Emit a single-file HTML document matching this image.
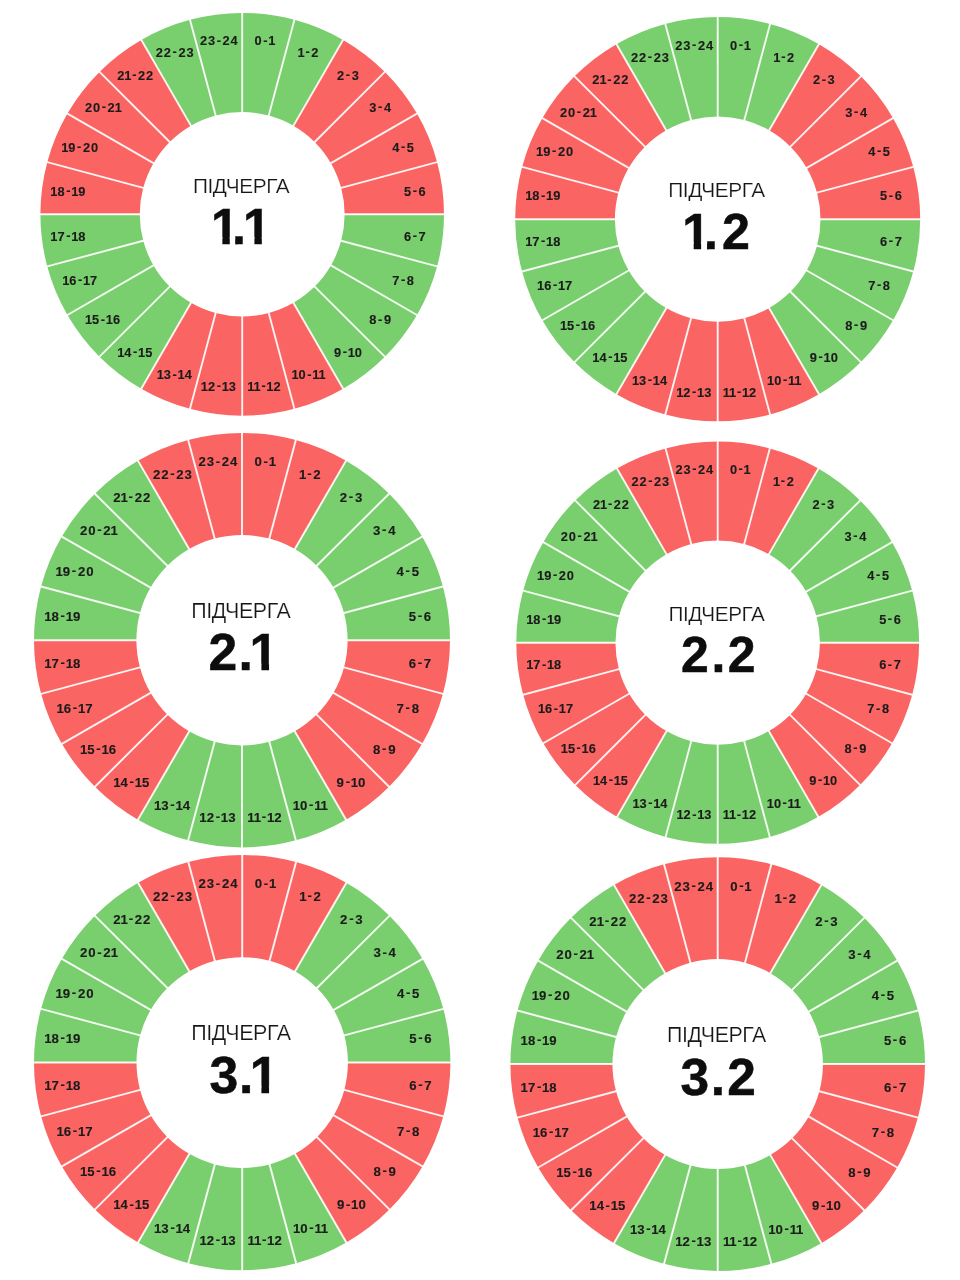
<!DOCTYPE html>
<html lang="uk">
<head>
<meta charset="utf-8">
<title>Підчерги</title>
<style>
html,body{margin:0;padding:0;background:#fff;}
body{width:960px;height:1280px;overflow:hidden;font-family:"Liberation Sans",sans-serif;}
svg{display:block;}
.dv{stroke:#fff;stroke-width:1.9;stroke-opacity:.9;}
.lb{font-family:"Liberation Sans",sans-serif;font-size:12.8px;font-weight:bold;text-anchor:middle;fill:#1b1b1b;stroke:#1b1b1b;stroke-width:.12px;}
.tt{font-family:"Liberation Sans",sans-serif;font-size:20.8px;letter-spacing:-.42px;text-anchor:middle;fill:#161616;stroke:#fff;stroke-width:.22px;paint-order:fill stroke;}
.nm{font-family:"Liberation Sans",sans-serif;font-size:50px;font-weight:bold;fill:#0d0d0d;stroke:#0d0d0d;stroke-width:.5px;}
</style>
</head>
<body>
<svg width="960" height="1280" viewBox="0 0 960 1280">
<rect width="960" height="1280" fill="#fff"/>
<g transform="translate(242.2 214.3) scale(1.0015 0.9995)">
<path d="M0 -201.5A201.5 201.5 0 0 1 52.15 -194.63L26.48 -98.81A102.3 102.3 0 0 0 0 -102.3Z" fill="#79CE6D"/>
<path d="M52.15 -194.63A201.5 201.5 0 0 1 100.75 -174.5L51.15 -88.59A102.3 102.3 0 0 0 26.48 -98.81Z" fill="#79CE6D"/>
<path d="M100.75 -174.5A201.5 201.5 0 0 1 142.48 -142.48L72.34 -72.34A102.3 102.3 0 0 0 51.15 -88.59Z" fill="#FA6463"/>
<path d="M142.48 -142.48A201.5 201.5 0 0 1 174.5 -100.75L88.59 -51.15A102.3 102.3 0 0 0 72.34 -72.34Z" fill="#FA6463"/>
<path d="M174.5 -100.75A201.5 201.5 0 0 1 194.63 -52.15L98.81 -26.48A102.3 102.3 0 0 0 88.59 -51.15Z" fill="#FA6463"/>
<path d="M194.63 -52.15A201.5 201.5 0 0 1 201.5 -0L102.3 -0A102.3 102.3 0 0 0 98.81 -26.48Z" fill="#FA6463"/>
<path d="M201.5 -0A201.5 201.5 0 0 1 194.63 52.15L98.81 26.48A102.3 102.3 0 0 0 102.3 -0Z" fill="#79CE6D"/>
<path d="M194.63 52.15A201.5 201.5 0 0 1 174.5 100.75L88.59 51.15A102.3 102.3 0 0 0 98.81 26.48Z" fill="#79CE6D"/>
<path d="M174.5 100.75A201.5 201.5 0 0 1 142.48 142.48L72.34 72.34A102.3 102.3 0 0 0 88.59 51.15Z" fill="#79CE6D"/>
<path d="M142.48 142.48A201.5 201.5 0 0 1 100.75 174.5L51.15 88.59A102.3 102.3 0 0 0 72.34 72.34Z" fill="#79CE6D"/>
<path d="M100.75 174.5A201.5 201.5 0 0 1 52.15 194.63L26.48 98.81A102.3 102.3 0 0 0 51.15 88.59Z" fill="#FA6463"/>
<path d="M52.15 194.63A201.5 201.5 0 0 1 0 201.5L0 102.3A102.3 102.3 0 0 0 26.48 98.81Z" fill="#FA6463"/>
<path d="M0 201.5A201.5 201.5 0 0 1 -52.15 194.63L-26.48 98.81A102.3 102.3 0 0 0 0 102.3Z" fill="#FA6463"/>
<path d="M-52.15 194.63A201.5 201.5 0 0 1 -100.75 174.5L-51.15 88.59A102.3 102.3 0 0 0 -26.48 98.81Z" fill="#FA6463"/>
<path d="M-100.75 174.5A201.5 201.5 0 0 1 -142.48 142.48L-72.34 72.34A102.3 102.3 0 0 0 -51.15 88.59Z" fill="#79CE6D"/>
<path d="M-142.48 142.48A201.5 201.5 0 0 1 -174.5 100.75L-88.59 51.15A102.3 102.3 0 0 0 -72.34 72.34Z" fill="#79CE6D"/>
<path d="M-174.5 100.75A201.5 201.5 0 0 1 -194.63 52.15L-98.81 26.48A102.3 102.3 0 0 0 -88.59 51.15Z" fill="#79CE6D"/>
<path d="M-194.63 52.15A201.5 201.5 0 0 1 -201.5 0L-102.3 0A102.3 102.3 0 0 0 -98.81 26.48Z" fill="#79CE6D"/>
<path d="M-201.5 0A201.5 201.5 0 0 1 -194.63 -52.15L-98.81 -26.48A102.3 102.3 0 0 0 -102.3 0Z" fill="#FA6463"/>
<path d="M-194.63 -52.15A201.5 201.5 0 0 1 -174.5 -100.75L-88.59 -51.15A102.3 102.3 0 0 0 -98.81 -26.48Z" fill="#FA6463"/>
<path d="M-174.5 -100.75A201.5 201.5 0 0 1 -142.48 -142.48L-72.34 -72.34A102.3 102.3 0 0 0 -88.59 -51.15Z" fill="#FA6463"/>
<path d="M-142.48 -142.48A201.5 201.5 0 0 1 -100.75 -174.5L-51.15 -88.59A102.3 102.3 0 0 0 -72.34 -72.34Z" fill="#FA6463"/>
<path d="M-100.75 -174.5A201.5 201.5 0 0 1 -52.15 -194.63L-26.48 -98.81A102.3 102.3 0 0 0 -51.15 -88.59Z" fill="#79CE6D"/>
<path d="M-52.15 -194.63A201.5 201.5 0 0 1 -0 -201.5L-0 -102.3A102.3 102.3 0 0 0 -26.48 -98.81Z" fill="#79CE6D"/>
<line x1="0" y1="-101.3" x2="0" y2="-202.5" class="dv"/>
<line x1="26.22" y1="-97.85" x2="52.41" y2="-195.6" class="dv"/>
<line x1="50.65" y1="-87.73" x2="101.25" y2="-175.37" class="dv"/>
<line x1="71.63" y1="-71.63" x2="143.19" y2="-143.19" class="dv"/>
<line x1="87.73" y1="-50.65" x2="175.37" y2="-101.25" class="dv"/>
<line x1="97.85" y1="-26.22" x2="195.6" y2="-52.41" class="dv"/>
<line x1="101.3" y1="-0" x2="202.5" y2="-0" class="dv"/>
<line x1="97.85" y1="26.22" x2="195.6" y2="52.41" class="dv"/>
<line x1="87.73" y1="50.65" x2="175.37" y2="101.25" class="dv"/>
<line x1="71.63" y1="71.63" x2="143.19" y2="143.19" class="dv"/>
<line x1="50.65" y1="87.73" x2="101.25" y2="175.37" class="dv"/>
<line x1="26.22" y1="97.85" x2="52.41" y2="195.6" class="dv"/>
<line x1="0" y1="101.3" x2="0" y2="202.5" class="dv"/>
<line x1="-26.22" y1="97.85" x2="-52.41" y2="195.6" class="dv"/>
<line x1="-50.65" y1="87.73" x2="-101.25" y2="175.37" class="dv"/>
<line x1="-71.63" y1="71.63" x2="-143.19" y2="143.19" class="dv"/>
<line x1="-87.73" y1="50.65" x2="-175.37" y2="101.25" class="dv"/>
<line x1="-97.85" y1="26.22" x2="-195.6" y2="52.41" class="dv"/>
<line x1="-101.3" y1="0" x2="-202.5" y2="0" class="dv"/>
<line x1="-97.85" y1="-26.22" x2="-195.6" y2="-52.41" class="dv"/>
<line x1="-87.73" y1="-50.65" x2="-175.37" y2="-101.25" class="dv"/>
<line x1="-71.63" y1="-71.63" x2="-143.19" y2="-143.19" class="dv"/>
<line x1="-50.65" y1="-87.73" x2="-101.25" y2="-175.37" class="dv"/>
<line x1="-26.22" y1="-97.85" x2="-52.41" y2="-195.6" class="dv"/>
<text class="lb" x="15.78 23.08 29.48" y="-169.01 -169.76 -169.01">0-1</text>
<text class="lb" x="58.88 65.28 72.58" y="-157.22 -157.97 -157.22">1-2</text>
<text class="lb" x="98.33 105.63 112.93" y="-134.44 -135.19 -134.44">2-3</text>
<text class="lb" x="130.54 137.84 145.14" y="-102.23 -102.98 -102.23">3-4</text>
<text class="lb" x="153.32 160.62 167.92" y="-62.78 -63.53 -62.78">4-5</text>
<text class="lb" x="165.11 172.41 179.71" y="-18.78 -19.53 -18.78">5-6</text>
<text class="lb" x="165.11 172.41 179.71" y="26.78 26.03 26.78">6-7</text>
<text class="lb" x="153.32 160.62 167.92" y="70.78 70.03 70.78">7-8</text>
<text class="lb" x="130.54 137.84 145.14" y="110.23 109.48 110.23">8-9</text>
<text class="lb" x="95.23 102.53 108.93 116.03" y="142.44 141.69 142.44 142.44">9-10</text>
<text class="lb" x="52.68 59.78 67.08 73.48 79.68" y="165.22 165.22 164.47 165.22 165.22">10-11</text>
<text class="lb" x="8.68 14.88 21.28 27.68 34.78" y="177.01 177.01 176.26 177.01 177.01">11-12</text>
<text class="lb" x="-37.78 -30.68 -23.38 -16.98 -9.88" y="177.01 177.01 176.26 177.01 177.01">12-13</text>
<text class="lb" x="-81.78 -74.68 -67.38 -60.98 -53.88" y="165.22 165.22 164.47 165.22 165.22">13-14</text>
<text class="lb" x="-121.23 -114.13 -106.83 -100.43 -93.33" y="142.44 142.44 141.69 142.44 142.44">14-15</text>
<text class="lb" x="-153.44 -146.34 -139.04 -132.64 -125.54" y="110.23 110.23 109.48 110.23 110.23">15-16</text>
<text class="lb" x="-176.22 -169.12 -161.82 -155.42 -148.32" y="70.78 70.78 70.03 70.78 70.78">16-17</text>
<text class="lb" x="-188.01 -180.91 -173.61 -167.21 -160.11" y="26.78 26.78 26.03 26.78 26.78">17-18</text>
<text class="lb" x="-188.01 -180.91 -173.61 -167.21 -160.11" y="-18.78 -18.78 -19.53 -18.78 -18.78">18-19</text>
<text class="lb" x="-177.12 -170.02 -162.72 -155.42 -147.42" y="-62.78 -62.78 -63.53 -62.78 -62.78">19-20</text>
<text class="lb" x="-153.44 -145.44 -138.14 -130.84 -123.74" y="-102.23 -102.23 -102.98 -102.23 -102.23">20-21</text>
<text class="lb" x="-121.23 -114.13 -107.73 -100.43 -92.43" y="-134.44 -134.44 -135.19 -134.44 -134.44">21-22</text>
<text class="lb" x="-82.68 -74.68 -67.38 -60.08 -52.08" y="-157.22 -157.22 -157.97 -157.22 -157.22">22-23</text>
<text class="lb" x="-38.68 -30.68 -23.38 -16.08 -8.08" y="-169.01 -169.01 -169.76 -169.01 -169.01">23-24</text>
<text class="tt" x="-1.2" y="-21.7">ПІДЧЕРГА</text>
<text class="nm" x="-31.2 -10.1 0.8" y="29.3">1.1</text>
<rect x="-29.85" y="22.7" width="10.05" height="9" fill="#fff"/>
<rect x="-12.4" y="22.7" width="5.4" height="9" fill="#fff"/>
<rect x="2.15" y="22.7" width="10.05" height="9" fill="#fff"/>
<rect x="19.6" y="22.7" width="9.4" height="9" fill="#fff"/>
</g>
<g transform="translate(717.7 219.2) scale(1.0050 1.0030)">
<path d="M0 -201.5A201.5 201.5 0 0 1 52.15 -194.63L26.48 -98.81A102.3 102.3 0 0 0 0 -102.3Z" fill="#79CE6D"/>
<path d="M52.15 -194.63A201.5 201.5 0 0 1 100.75 -174.5L51.15 -88.59A102.3 102.3 0 0 0 26.48 -98.81Z" fill="#79CE6D"/>
<path d="M100.75 -174.5A201.5 201.5 0 0 1 142.48 -142.48L72.34 -72.34A102.3 102.3 0 0 0 51.15 -88.59Z" fill="#FA6463"/>
<path d="M142.48 -142.48A201.5 201.5 0 0 1 174.5 -100.75L88.59 -51.15A102.3 102.3 0 0 0 72.34 -72.34Z" fill="#FA6463"/>
<path d="M174.5 -100.75A201.5 201.5 0 0 1 194.63 -52.15L98.81 -26.48A102.3 102.3 0 0 0 88.59 -51.15Z" fill="#FA6463"/>
<path d="M194.63 -52.15A201.5 201.5 0 0 1 201.5 -0L102.3 -0A102.3 102.3 0 0 0 98.81 -26.48Z" fill="#FA6463"/>
<path d="M201.5 -0A201.5 201.5 0 0 1 194.63 52.15L98.81 26.48A102.3 102.3 0 0 0 102.3 -0Z" fill="#79CE6D"/>
<path d="M194.63 52.15A201.5 201.5 0 0 1 174.5 100.75L88.59 51.15A102.3 102.3 0 0 0 98.81 26.48Z" fill="#79CE6D"/>
<path d="M174.5 100.75A201.5 201.5 0 0 1 142.48 142.48L72.34 72.34A102.3 102.3 0 0 0 88.59 51.15Z" fill="#79CE6D"/>
<path d="M142.48 142.48A201.5 201.5 0 0 1 100.75 174.5L51.15 88.59A102.3 102.3 0 0 0 72.34 72.34Z" fill="#79CE6D"/>
<path d="M100.75 174.5A201.5 201.5 0 0 1 52.15 194.63L26.48 98.81A102.3 102.3 0 0 0 51.15 88.59Z" fill="#FA6463"/>
<path d="M52.15 194.63A201.5 201.5 0 0 1 0 201.5L0 102.3A102.3 102.3 0 0 0 26.48 98.81Z" fill="#FA6463"/>
<path d="M0 201.5A201.5 201.5 0 0 1 -52.15 194.63L-26.48 98.81A102.3 102.3 0 0 0 0 102.3Z" fill="#FA6463"/>
<path d="M-52.15 194.63A201.5 201.5 0 0 1 -100.75 174.5L-51.15 88.59A102.3 102.3 0 0 0 -26.48 98.81Z" fill="#FA6463"/>
<path d="M-100.75 174.5A201.5 201.5 0 0 1 -142.48 142.48L-72.34 72.34A102.3 102.3 0 0 0 -51.15 88.59Z" fill="#79CE6D"/>
<path d="M-142.48 142.48A201.5 201.5 0 0 1 -174.5 100.75L-88.59 51.15A102.3 102.3 0 0 0 -72.34 72.34Z" fill="#79CE6D"/>
<path d="M-174.5 100.75A201.5 201.5 0 0 1 -194.63 52.15L-98.81 26.48A102.3 102.3 0 0 0 -88.59 51.15Z" fill="#79CE6D"/>
<path d="M-194.63 52.15A201.5 201.5 0 0 1 -201.5 0L-102.3 0A102.3 102.3 0 0 0 -98.81 26.48Z" fill="#79CE6D"/>
<path d="M-201.5 0A201.5 201.5 0 0 1 -194.63 -52.15L-98.81 -26.48A102.3 102.3 0 0 0 -102.3 0Z" fill="#FA6463"/>
<path d="M-194.63 -52.15A201.5 201.5 0 0 1 -174.5 -100.75L-88.59 -51.15A102.3 102.3 0 0 0 -98.81 -26.48Z" fill="#FA6463"/>
<path d="M-174.5 -100.75A201.5 201.5 0 0 1 -142.48 -142.48L-72.34 -72.34A102.3 102.3 0 0 0 -88.59 -51.15Z" fill="#FA6463"/>
<path d="M-142.48 -142.48A201.5 201.5 0 0 1 -100.75 -174.5L-51.15 -88.59A102.3 102.3 0 0 0 -72.34 -72.34Z" fill="#FA6463"/>
<path d="M-100.75 -174.5A201.5 201.5 0 0 1 -52.15 -194.63L-26.48 -98.81A102.3 102.3 0 0 0 -51.15 -88.59Z" fill="#79CE6D"/>
<path d="M-52.15 -194.63A201.5 201.5 0 0 1 -0 -201.5L-0 -102.3A102.3 102.3 0 0 0 -26.48 -98.81Z" fill="#79CE6D"/>
<line x1="0" y1="-101.3" x2="0" y2="-202.5" class="dv"/>
<line x1="26.22" y1="-97.85" x2="52.41" y2="-195.6" class="dv"/>
<line x1="50.65" y1="-87.73" x2="101.25" y2="-175.37" class="dv"/>
<line x1="71.63" y1="-71.63" x2="143.19" y2="-143.19" class="dv"/>
<line x1="87.73" y1="-50.65" x2="175.37" y2="-101.25" class="dv"/>
<line x1="97.85" y1="-26.22" x2="195.6" y2="-52.41" class="dv"/>
<line x1="101.3" y1="-0" x2="202.5" y2="-0" class="dv"/>
<line x1="97.85" y1="26.22" x2="195.6" y2="52.41" class="dv"/>
<line x1="87.73" y1="50.65" x2="175.37" y2="101.25" class="dv"/>
<line x1="71.63" y1="71.63" x2="143.19" y2="143.19" class="dv"/>
<line x1="50.65" y1="87.73" x2="101.25" y2="175.37" class="dv"/>
<line x1="26.22" y1="97.85" x2="52.41" y2="195.6" class="dv"/>
<line x1="0" y1="101.3" x2="0" y2="202.5" class="dv"/>
<line x1="-26.22" y1="97.85" x2="-52.41" y2="195.6" class="dv"/>
<line x1="-50.65" y1="87.73" x2="-101.25" y2="175.37" class="dv"/>
<line x1="-71.63" y1="71.63" x2="-143.19" y2="143.19" class="dv"/>
<line x1="-87.73" y1="50.65" x2="-175.37" y2="101.25" class="dv"/>
<line x1="-97.85" y1="26.22" x2="-195.6" y2="52.41" class="dv"/>
<line x1="-101.3" y1="0" x2="-202.5" y2="0" class="dv"/>
<line x1="-97.85" y1="-26.22" x2="-195.6" y2="-52.41" class="dv"/>
<line x1="-87.73" y1="-50.65" x2="-175.37" y2="-101.25" class="dv"/>
<line x1="-71.63" y1="-71.63" x2="-143.19" y2="-143.19" class="dv"/>
<line x1="-50.65" y1="-87.73" x2="-101.25" y2="-175.37" class="dv"/>
<line x1="-26.22" y1="-97.85" x2="-52.41" y2="-195.6" class="dv"/>
<text class="lb" x="15.78 23.08 29.48" y="-169.01 -169.76 -169.01">0-1</text>
<text class="lb" x="58.88 65.28 72.58" y="-157.22 -157.97 -157.22">1-2</text>
<text class="lb" x="98.33 105.63 112.93" y="-134.44 -135.19 -134.44">2-3</text>
<text class="lb" x="130.54 137.84 145.14" y="-102.23 -102.98 -102.23">3-4</text>
<text class="lb" x="153.32 160.62 167.92" y="-62.78 -63.53 -62.78">4-5</text>
<text class="lb" x="165.11 172.41 179.71" y="-18.78 -19.53 -18.78">5-6</text>
<text class="lb" x="165.11 172.41 179.71" y="26.78 26.03 26.78">6-7</text>
<text class="lb" x="153.32 160.62 167.92" y="70.78 70.03 70.78">7-8</text>
<text class="lb" x="130.54 137.84 145.14" y="110.23 109.48 110.23">8-9</text>
<text class="lb" x="95.23 102.53 108.93 116.03" y="142.44 141.69 142.44 142.44">9-10</text>
<text class="lb" x="52.68 59.78 67.08 73.48 79.68" y="165.22 165.22 164.47 165.22 165.22">10-11</text>
<text class="lb" x="8.68 14.88 21.28 27.68 34.78" y="177.01 177.01 176.26 177.01 177.01">11-12</text>
<text class="lb" x="-37.78 -30.68 -23.38 -16.98 -9.88" y="177.01 177.01 176.26 177.01 177.01">12-13</text>
<text class="lb" x="-81.78 -74.68 -67.38 -60.98 -53.88" y="165.22 165.22 164.47 165.22 165.22">13-14</text>
<text class="lb" x="-121.23 -114.13 -106.83 -100.43 -93.33" y="142.44 142.44 141.69 142.44 142.44">14-15</text>
<text class="lb" x="-153.44 -146.34 -139.04 -132.64 -125.54" y="110.23 110.23 109.48 110.23 110.23">15-16</text>
<text class="lb" x="-176.22 -169.12 -161.82 -155.42 -148.32" y="70.78 70.78 70.03 70.78 70.78">16-17</text>
<text class="lb" x="-188.01 -180.91 -173.61 -167.21 -160.11" y="26.78 26.78 26.03 26.78 26.78">17-18</text>
<text class="lb" x="-188.01 -180.91 -173.61 -167.21 -160.11" y="-18.78 -18.78 -19.53 -18.78 -18.78">18-19</text>
<text class="lb" x="-177.12 -170.02 -162.72 -155.42 -147.42" y="-62.78 -62.78 -63.53 -62.78 -62.78">19-20</text>
<text class="lb" x="-153.44 -145.44 -138.14 -130.84 -123.74" y="-102.23 -102.23 -102.98 -102.23 -102.23">20-21</text>
<text class="lb" x="-121.23 -114.13 -107.73 -100.43 -92.43" y="-134.44 -134.44 -135.19 -134.44 -134.44">21-22</text>
<text class="lb" x="-82.68 -74.68 -67.38 -60.08 -52.08" y="-157.22 -157.22 -157.97 -157.22 -157.22">22-23</text>
<text class="lb" x="-38.68 -30.68 -23.38 -16.08 -8.08" y="-169.01 -169.01 -169.76 -169.01 -169.01">23-24</text>
<text class="tt" x="-1.2" y="-21.7">ПІДЧЕРГА</text>
<text class="nm" x="-35.3 -13.7 4.2" y="29.4">1.2</text>
<rect x="-33.95" y="22.8" width="10.05" height="9" fill="#fff"/>
<rect x="-16.5" y="22.8" width="5.9" height="9" fill="#fff"/>
</g>
<g transform="translate(242 640.2) scale(1.0323 1.0283)">
<path d="M0 -201.5A201.5 201.5 0 0 1 52.15 -194.63L26.48 -98.81A102.3 102.3 0 0 0 0 -102.3Z" fill="#FA6463"/>
<path d="M52.15 -194.63A201.5 201.5 0 0 1 100.75 -174.5L51.15 -88.59A102.3 102.3 0 0 0 26.48 -98.81Z" fill="#FA6463"/>
<path d="M100.75 -174.5A201.5 201.5 0 0 1 142.48 -142.48L72.34 -72.34A102.3 102.3 0 0 0 51.15 -88.59Z" fill="#79CE6D"/>
<path d="M142.48 -142.48A201.5 201.5 0 0 1 174.5 -100.75L88.59 -51.15A102.3 102.3 0 0 0 72.34 -72.34Z" fill="#79CE6D"/>
<path d="M174.5 -100.75A201.5 201.5 0 0 1 194.63 -52.15L98.81 -26.48A102.3 102.3 0 0 0 88.59 -51.15Z" fill="#79CE6D"/>
<path d="M194.63 -52.15A201.5 201.5 0 0 1 201.5 -0L102.3 -0A102.3 102.3 0 0 0 98.81 -26.48Z" fill="#79CE6D"/>
<path d="M201.5 -0A201.5 201.5 0 0 1 194.63 52.15L98.81 26.48A102.3 102.3 0 0 0 102.3 -0Z" fill="#FA6463"/>
<path d="M194.63 52.15A201.5 201.5 0 0 1 174.5 100.75L88.59 51.15A102.3 102.3 0 0 0 98.81 26.48Z" fill="#FA6463"/>
<path d="M174.5 100.75A201.5 201.5 0 0 1 142.48 142.48L72.34 72.34A102.3 102.3 0 0 0 88.59 51.15Z" fill="#FA6463"/>
<path d="M142.48 142.48A201.5 201.5 0 0 1 100.75 174.5L51.15 88.59A102.3 102.3 0 0 0 72.34 72.34Z" fill="#FA6463"/>
<path d="M100.75 174.5A201.5 201.5 0 0 1 52.15 194.63L26.48 98.81A102.3 102.3 0 0 0 51.15 88.59Z" fill="#79CE6D"/>
<path d="M52.15 194.63A201.5 201.5 0 0 1 0 201.5L0 102.3A102.3 102.3 0 0 0 26.48 98.81Z" fill="#79CE6D"/>
<path d="M0 201.5A201.5 201.5 0 0 1 -52.15 194.63L-26.48 98.81A102.3 102.3 0 0 0 0 102.3Z" fill="#79CE6D"/>
<path d="M-52.15 194.63A201.5 201.5 0 0 1 -100.75 174.5L-51.15 88.59A102.3 102.3 0 0 0 -26.48 98.81Z" fill="#79CE6D"/>
<path d="M-100.75 174.5A201.5 201.5 0 0 1 -142.48 142.48L-72.34 72.34A102.3 102.3 0 0 0 -51.15 88.59Z" fill="#FA6463"/>
<path d="M-142.48 142.48A201.5 201.5 0 0 1 -174.5 100.75L-88.59 51.15A102.3 102.3 0 0 0 -72.34 72.34Z" fill="#FA6463"/>
<path d="M-174.5 100.75A201.5 201.5 0 0 1 -194.63 52.15L-98.81 26.48A102.3 102.3 0 0 0 -88.59 51.15Z" fill="#FA6463"/>
<path d="M-194.63 52.15A201.5 201.5 0 0 1 -201.5 0L-102.3 0A102.3 102.3 0 0 0 -98.81 26.48Z" fill="#FA6463"/>
<path d="M-201.5 0A201.5 201.5 0 0 1 -194.63 -52.15L-98.81 -26.48A102.3 102.3 0 0 0 -102.3 0Z" fill="#79CE6D"/>
<path d="M-194.63 -52.15A201.5 201.5 0 0 1 -174.5 -100.75L-88.59 -51.15A102.3 102.3 0 0 0 -98.81 -26.48Z" fill="#79CE6D"/>
<path d="M-174.5 -100.75A201.5 201.5 0 0 1 -142.48 -142.48L-72.34 -72.34A102.3 102.3 0 0 0 -88.59 -51.15Z" fill="#79CE6D"/>
<path d="M-142.48 -142.48A201.5 201.5 0 0 1 -100.75 -174.5L-51.15 -88.59A102.3 102.3 0 0 0 -72.34 -72.34Z" fill="#79CE6D"/>
<path d="M-100.75 -174.5A201.5 201.5 0 0 1 -52.15 -194.63L-26.48 -98.81A102.3 102.3 0 0 0 -51.15 -88.59Z" fill="#FA6463"/>
<path d="M-52.15 -194.63A201.5 201.5 0 0 1 -0 -201.5L-0 -102.3A102.3 102.3 0 0 0 -26.48 -98.81Z" fill="#FA6463"/>
<line x1="0" y1="-101.3" x2="0" y2="-202.5" class="dv"/>
<line x1="26.22" y1="-97.85" x2="52.41" y2="-195.6" class="dv"/>
<line x1="50.65" y1="-87.73" x2="101.25" y2="-175.37" class="dv"/>
<line x1="71.63" y1="-71.63" x2="143.19" y2="-143.19" class="dv"/>
<line x1="87.73" y1="-50.65" x2="175.37" y2="-101.25" class="dv"/>
<line x1="97.85" y1="-26.22" x2="195.6" y2="-52.41" class="dv"/>
<line x1="101.3" y1="-0" x2="202.5" y2="-0" class="dv"/>
<line x1="97.85" y1="26.22" x2="195.6" y2="52.41" class="dv"/>
<line x1="87.73" y1="50.65" x2="175.37" y2="101.25" class="dv"/>
<line x1="71.63" y1="71.63" x2="143.19" y2="143.19" class="dv"/>
<line x1="50.65" y1="87.73" x2="101.25" y2="175.37" class="dv"/>
<line x1="26.22" y1="97.85" x2="52.41" y2="195.6" class="dv"/>
<line x1="0" y1="101.3" x2="0" y2="202.5" class="dv"/>
<line x1="-26.22" y1="97.85" x2="-52.41" y2="195.6" class="dv"/>
<line x1="-50.65" y1="87.73" x2="-101.25" y2="175.37" class="dv"/>
<line x1="-71.63" y1="71.63" x2="-143.19" y2="143.19" class="dv"/>
<line x1="-87.73" y1="50.65" x2="-175.37" y2="101.25" class="dv"/>
<line x1="-97.85" y1="26.22" x2="-195.6" y2="52.41" class="dv"/>
<line x1="-101.3" y1="0" x2="-202.5" y2="0" class="dv"/>
<line x1="-97.85" y1="-26.22" x2="-195.6" y2="-52.41" class="dv"/>
<line x1="-87.73" y1="-50.65" x2="-175.37" y2="-101.25" class="dv"/>
<line x1="-71.63" y1="-71.63" x2="-143.19" y2="-143.19" class="dv"/>
<line x1="-50.65" y1="-87.73" x2="-101.25" y2="-175.37" class="dv"/>
<line x1="-26.22" y1="-97.85" x2="-52.41" y2="-195.6" class="dv"/>
<text class="lb" x="15.78 23.08 29.48" y="-169.01 -169.76 -169.01">0-1</text>
<text class="lb" x="58.88 65.28 72.58" y="-157.22 -157.97 -157.22">1-2</text>
<text class="lb" x="98.33 105.63 112.93" y="-134.44 -135.19 -134.44">2-3</text>
<text class="lb" x="130.54 137.84 145.14" y="-102.23 -102.98 -102.23">3-4</text>
<text class="lb" x="153.32 160.62 167.92" y="-62.78 -63.53 -62.78">4-5</text>
<text class="lb" x="165.11 172.41 179.71" y="-18.78 -19.53 -18.78">5-6</text>
<text class="lb" x="165.11 172.41 179.71" y="26.78 26.03 26.78">6-7</text>
<text class="lb" x="153.32 160.62 167.92" y="70.78 70.03 70.78">7-8</text>
<text class="lb" x="130.54 137.84 145.14" y="110.23 109.48 110.23">8-9</text>
<text class="lb" x="95.23 102.53 108.93 116.03" y="142.44 141.69 142.44 142.44">9-10</text>
<text class="lb" x="52.68 59.78 67.08 73.48 79.68" y="165.22 165.22 164.47 165.22 165.22">10-11</text>
<text class="lb" x="8.68 14.88 21.28 27.68 34.78" y="177.01 177.01 176.26 177.01 177.01">11-12</text>
<text class="lb" x="-37.78 -30.68 -23.38 -16.98 -9.88" y="177.01 177.01 176.26 177.01 177.01">12-13</text>
<text class="lb" x="-81.78 -74.68 -67.38 -60.98 -53.88" y="165.22 165.22 164.47 165.22 165.22">13-14</text>
<text class="lb" x="-121.23 -114.13 -106.83 -100.43 -93.33" y="142.44 142.44 141.69 142.44 142.44">14-15</text>
<text class="lb" x="-153.44 -146.34 -139.04 -132.64 -125.54" y="110.23 110.23 109.48 110.23 110.23">15-16</text>
<text class="lb" x="-176.22 -169.12 -161.82 -155.42 -148.32" y="70.78 70.78 70.03 70.78 70.78">16-17</text>
<text class="lb" x="-188.01 -180.91 -173.61 -167.21 -160.11" y="26.78 26.78 26.03 26.78 26.78">17-18</text>
<text class="lb" x="-188.01 -180.91 -173.61 -167.21 -160.11" y="-18.78 -18.78 -19.53 -18.78 -18.78">18-19</text>
<text class="lb" x="-177.12 -170.02 -162.72 -155.42 -147.42" y="-62.78 -62.78 -63.53 -62.78 -62.78">19-20</text>
<text class="lb" x="-153.44 -145.44 -138.14 -130.84 -123.74" y="-102.23 -102.23 -102.98 -102.23 -102.23">20-21</text>
<text class="lb" x="-121.23 -114.13 -107.73 -100.43 -92.43" y="-134.44 -134.44 -135.19 -134.44 -134.44">21-22</text>
<text class="lb" x="-82.68 -74.68 -67.38 -60.08 -52.08" y="-157.22 -157.22 -157.97 -157.22 -157.22">22-23</text>
<text class="lb" x="-38.68 -30.68 -23.38 -16.08 -8.08" y="-169.01 -169.01 -169.76 -169.01 -169.01">23-24</text>
<text class="tt" x="-1.2" y="-21.7">ПІДЧЕРГА</text>
<text class="nm" x="-32.4 -3.5 7.4" y="29.4">2.1</text>
<rect x="8.75" y="22.8" width="10.05" height="9" fill="#fff"/>
<rect x="26.2" y="22.8" width="9.4" height="9" fill="#fff"/>
</g>
<g transform="translate(717.7 642.7) scale(0.9995 0.9980)">
<path d="M0 -201.5A201.5 201.5 0 0 1 52.15 -194.63L26.48 -98.81A102.3 102.3 0 0 0 0 -102.3Z" fill="#FA6463"/>
<path d="M52.15 -194.63A201.5 201.5 0 0 1 100.75 -174.5L51.15 -88.59A102.3 102.3 0 0 0 26.48 -98.81Z" fill="#FA6463"/>
<path d="M100.75 -174.5A201.5 201.5 0 0 1 142.48 -142.48L72.34 -72.34A102.3 102.3 0 0 0 51.15 -88.59Z" fill="#79CE6D"/>
<path d="M142.48 -142.48A201.5 201.5 0 0 1 174.5 -100.75L88.59 -51.15A102.3 102.3 0 0 0 72.34 -72.34Z" fill="#79CE6D"/>
<path d="M174.5 -100.75A201.5 201.5 0 0 1 194.63 -52.15L98.81 -26.48A102.3 102.3 0 0 0 88.59 -51.15Z" fill="#79CE6D"/>
<path d="M194.63 -52.15A201.5 201.5 0 0 1 201.5 -0L102.3 -0A102.3 102.3 0 0 0 98.81 -26.48Z" fill="#79CE6D"/>
<path d="M201.5 -0A201.5 201.5 0 0 1 194.63 52.15L98.81 26.48A102.3 102.3 0 0 0 102.3 -0Z" fill="#FA6463"/>
<path d="M194.63 52.15A201.5 201.5 0 0 1 174.5 100.75L88.59 51.15A102.3 102.3 0 0 0 98.81 26.48Z" fill="#FA6463"/>
<path d="M174.5 100.75A201.5 201.5 0 0 1 142.48 142.48L72.34 72.34A102.3 102.3 0 0 0 88.59 51.15Z" fill="#FA6463"/>
<path d="M142.48 142.48A201.5 201.5 0 0 1 100.75 174.5L51.15 88.59A102.3 102.3 0 0 0 72.34 72.34Z" fill="#FA6463"/>
<path d="M100.75 174.5A201.5 201.5 0 0 1 52.15 194.63L26.48 98.81A102.3 102.3 0 0 0 51.15 88.59Z" fill="#79CE6D"/>
<path d="M52.15 194.63A201.5 201.5 0 0 1 0 201.5L0 102.3A102.3 102.3 0 0 0 26.48 98.81Z" fill="#79CE6D"/>
<path d="M0 201.5A201.5 201.5 0 0 1 -52.15 194.63L-26.48 98.81A102.3 102.3 0 0 0 0 102.3Z" fill="#79CE6D"/>
<path d="M-52.15 194.63A201.5 201.5 0 0 1 -100.75 174.5L-51.15 88.59A102.3 102.3 0 0 0 -26.48 98.81Z" fill="#79CE6D"/>
<path d="M-100.75 174.5A201.5 201.5 0 0 1 -142.48 142.48L-72.34 72.34A102.3 102.3 0 0 0 -51.15 88.59Z" fill="#FA6463"/>
<path d="M-142.48 142.48A201.5 201.5 0 0 1 -174.5 100.75L-88.59 51.15A102.3 102.3 0 0 0 -72.34 72.34Z" fill="#FA6463"/>
<path d="M-174.5 100.75A201.5 201.5 0 0 1 -194.63 52.15L-98.81 26.48A102.3 102.3 0 0 0 -88.59 51.15Z" fill="#FA6463"/>
<path d="M-194.63 52.15A201.5 201.5 0 0 1 -201.5 0L-102.3 0A102.3 102.3 0 0 0 -98.81 26.48Z" fill="#FA6463"/>
<path d="M-201.5 0A201.5 201.5 0 0 1 -194.63 -52.15L-98.81 -26.48A102.3 102.3 0 0 0 -102.3 0Z" fill="#79CE6D"/>
<path d="M-194.63 -52.15A201.5 201.5 0 0 1 -174.5 -100.75L-88.59 -51.15A102.3 102.3 0 0 0 -98.81 -26.48Z" fill="#79CE6D"/>
<path d="M-174.5 -100.75A201.5 201.5 0 0 1 -142.48 -142.48L-72.34 -72.34A102.3 102.3 0 0 0 -88.59 -51.15Z" fill="#79CE6D"/>
<path d="M-142.48 -142.48A201.5 201.5 0 0 1 -100.75 -174.5L-51.15 -88.59A102.3 102.3 0 0 0 -72.34 -72.34Z" fill="#79CE6D"/>
<path d="M-100.75 -174.5A201.5 201.5 0 0 1 -52.15 -194.63L-26.48 -98.81A102.3 102.3 0 0 0 -51.15 -88.59Z" fill="#FA6463"/>
<path d="M-52.15 -194.63A201.5 201.5 0 0 1 -0 -201.5L-0 -102.3A102.3 102.3 0 0 0 -26.48 -98.81Z" fill="#FA6463"/>
<line x1="0" y1="-101.3" x2="0" y2="-202.5" class="dv"/>
<line x1="26.22" y1="-97.85" x2="52.41" y2="-195.6" class="dv"/>
<line x1="50.65" y1="-87.73" x2="101.25" y2="-175.37" class="dv"/>
<line x1="71.63" y1="-71.63" x2="143.19" y2="-143.19" class="dv"/>
<line x1="87.73" y1="-50.65" x2="175.37" y2="-101.25" class="dv"/>
<line x1="97.85" y1="-26.22" x2="195.6" y2="-52.41" class="dv"/>
<line x1="101.3" y1="-0" x2="202.5" y2="-0" class="dv"/>
<line x1="97.85" y1="26.22" x2="195.6" y2="52.41" class="dv"/>
<line x1="87.73" y1="50.65" x2="175.37" y2="101.25" class="dv"/>
<line x1="71.63" y1="71.63" x2="143.19" y2="143.19" class="dv"/>
<line x1="50.65" y1="87.73" x2="101.25" y2="175.37" class="dv"/>
<line x1="26.22" y1="97.85" x2="52.41" y2="195.6" class="dv"/>
<line x1="0" y1="101.3" x2="0" y2="202.5" class="dv"/>
<line x1="-26.22" y1="97.85" x2="-52.41" y2="195.6" class="dv"/>
<line x1="-50.65" y1="87.73" x2="-101.25" y2="175.37" class="dv"/>
<line x1="-71.63" y1="71.63" x2="-143.19" y2="143.19" class="dv"/>
<line x1="-87.73" y1="50.65" x2="-175.37" y2="101.25" class="dv"/>
<line x1="-97.85" y1="26.22" x2="-195.6" y2="52.41" class="dv"/>
<line x1="-101.3" y1="0" x2="-202.5" y2="0" class="dv"/>
<line x1="-97.85" y1="-26.22" x2="-195.6" y2="-52.41" class="dv"/>
<line x1="-87.73" y1="-50.65" x2="-175.37" y2="-101.25" class="dv"/>
<line x1="-71.63" y1="-71.63" x2="-143.19" y2="-143.19" class="dv"/>
<line x1="-50.65" y1="-87.73" x2="-101.25" y2="-175.37" class="dv"/>
<line x1="-26.22" y1="-97.85" x2="-52.41" y2="-195.6" class="dv"/>
<text class="lb" x="15.78 23.08 29.48" y="-169.01 -169.76 -169.01">0-1</text>
<text class="lb" x="58.88 65.28 72.58" y="-157.22 -157.97 -157.22">1-2</text>
<text class="lb" x="98.33 105.63 112.93" y="-134.44 -135.19 -134.44">2-3</text>
<text class="lb" x="130.54 137.84 145.14" y="-102.23 -102.98 -102.23">3-4</text>
<text class="lb" x="153.32 160.62 167.92" y="-62.78 -63.53 -62.78">4-5</text>
<text class="lb" x="165.11 172.41 179.71" y="-18.78 -19.53 -18.78">5-6</text>
<text class="lb" x="165.11 172.41 179.71" y="26.78 26.03 26.78">6-7</text>
<text class="lb" x="153.32 160.62 167.92" y="70.78 70.03 70.78">7-8</text>
<text class="lb" x="130.54 137.84 145.14" y="110.23 109.48 110.23">8-9</text>
<text class="lb" x="95.23 102.53 108.93 116.03" y="142.44 141.69 142.44 142.44">9-10</text>
<text class="lb" x="52.68 59.78 67.08 73.48 79.68" y="165.22 165.22 164.47 165.22 165.22">10-11</text>
<text class="lb" x="8.68 14.88 21.28 27.68 34.78" y="177.01 177.01 176.26 177.01 177.01">11-12</text>
<text class="lb" x="-37.78 -30.68 -23.38 -16.98 -9.88" y="177.01 177.01 176.26 177.01 177.01">12-13</text>
<text class="lb" x="-81.78 -74.68 -67.38 -60.98 -53.88" y="165.22 165.22 164.47 165.22 165.22">13-14</text>
<text class="lb" x="-121.23 -114.13 -106.83 -100.43 -93.33" y="142.44 142.44 141.69 142.44 142.44">14-15</text>
<text class="lb" x="-153.44 -146.34 -139.04 -132.64 -125.54" y="110.23 110.23 109.48 110.23 110.23">15-16</text>
<text class="lb" x="-176.22 -169.12 -161.82 -155.42 -148.32" y="70.78 70.78 70.03 70.78 70.78">16-17</text>
<text class="lb" x="-188.01 -180.91 -173.61 -167.21 -160.11" y="26.78 26.78 26.03 26.78 26.78">17-18</text>
<text class="lb" x="-188.01 -180.91 -173.61 -167.21 -160.11" y="-18.78 -18.78 -19.53 -18.78 -18.78">18-19</text>
<text class="lb" x="-177.12 -170.02 -162.72 -155.42 -147.42" y="-62.78 -62.78 -63.53 -62.78 -62.78">19-20</text>
<text class="lb" x="-153.44 -145.44 -138.14 -130.84 -123.74" y="-102.23 -102.23 -102.98 -102.23 -102.23">20-21</text>
<text class="lb" x="-121.23 -114.13 -107.73 -100.43 -92.43" y="-134.44 -134.44 -135.19 -134.44 -134.44">21-22</text>
<text class="lb" x="-82.68 -74.68 -67.38 -60.08 -52.08" y="-157.22 -157.22 -157.97 -157.22 -157.22">22-23</text>
<text class="lb" x="-38.68 -30.68 -23.38 -16.08 -8.08" y="-169.01 -169.01 -169.76 -169.01 -169.01">23-24</text>
<text class="tt" x="-1.2" y="-21.7">ПІДЧЕРГА</text>
<text class="nm" x="-36.7 -6.2 9.95" y="29.2">2.2</text>
</g>
<g transform="translate(242.2 1062.6) scale(1.0333 1.0303)">
<path d="M0 -201.5A201.5 201.5 0 0 1 52.15 -194.63L26.48 -98.81A102.3 102.3 0 0 0 0 -102.3Z" fill="#FA6463"/>
<path d="M52.15 -194.63A201.5 201.5 0 0 1 100.75 -174.5L51.15 -88.59A102.3 102.3 0 0 0 26.48 -98.81Z" fill="#FA6463"/>
<path d="M100.75 -174.5A201.5 201.5 0 0 1 142.48 -142.48L72.34 -72.34A102.3 102.3 0 0 0 51.15 -88.59Z" fill="#79CE6D"/>
<path d="M142.48 -142.48A201.5 201.5 0 0 1 174.5 -100.75L88.59 -51.15A102.3 102.3 0 0 0 72.34 -72.34Z" fill="#79CE6D"/>
<path d="M174.5 -100.75A201.5 201.5 0 0 1 194.63 -52.15L98.81 -26.48A102.3 102.3 0 0 0 88.59 -51.15Z" fill="#79CE6D"/>
<path d="M194.63 -52.15A201.5 201.5 0 0 1 201.5 -0L102.3 -0A102.3 102.3 0 0 0 98.81 -26.48Z" fill="#79CE6D"/>
<path d="M201.5 -0A201.5 201.5 0 0 1 194.63 52.15L98.81 26.48A102.3 102.3 0 0 0 102.3 -0Z" fill="#FA6463"/>
<path d="M194.63 52.15A201.5 201.5 0 0 1 174.5 100.75L88.59 51.15A102.3 102.3 0 0 0 98.81 26.48Z" fill="#FA6463"/>
<path d="M174.5 100.75A201.5 201.5 0 0 1 142.48 142.48L72.34 72.34A102.3 102.3 0 0 0 88.59 51.15Z" fill="#FA6463"/>
<path d="M142.48 142.48A201.5 201.5 0 0 1 100.75 174.5L51.15 88.59A102.3 102.3 0 0 0 72.34 72.34Z" fill="#FA6463"/>
<path d="M100.75 174.5A201.5 201.5 0 0 1 52.15 194.63L26.48 98.81A102.3 102.3 0 0 0 51.15 88.59Z" fill="#79CE6D"/>
<path d="M52.15 194.63A201.5 201.5 0 0 1 0 201.5L0 102.3A102.3 102.3 0 0 0 26.48 98.81Z" fill="#79CE6D"/>
<path d="M0 201.5A201.5 201.5 0 0 1 -52.15 194.63L-26.48 98.81A102.3 102.3 0 0 0 0 102.3Z" fill="#79CE6D"/>
<path d="M-52.15 194.63A201.5 201.5 0 0 1 -100.75 174.5L-51.15 88.59A102.3 102.3 0 0 0 -26.48 98.81Z" fill="#79CE6D"/>
<path d="M-100.75 174.5A201.5 201.5 0 0 1 -142.48 142.48L-72.34 72.34A102.3 102.3 0 0 0 -51.15 88.59Z" fill="#FA6463"/>
<path d="M-142.48 142.48A201.5 201.5 0 0 1 -174.5 100.75L-88.59 51.15A102.3 102.3 0 0 0 -72.34 72.34Z" fill="#FA6463"/>
<path d="M-174.5 100.75A201.5 201.5 0 0 1 -194.63 52.15L-98.81 26.48A102.3 102.3 0 0 0 -88.59 51.15Z" fill="#FA6463"/>
<path d="M-194.63 52.15A201.5 201.5 0 0 1 -201.5 0L-102.3 0A102.3 102.3 0 0 0 -98.81 26.48Z" fill="#FA6463"/>
<path d="M-201.5 0A201.5 201.5 0 0 1 -194.63 -52.15L-98.81 -26.48A102.3 102.3 0 0 0 -102.3 0Z" fill="#79CE6D"/>
<path d="M-194.63 -52.15A201.5 201.5 0 0 1 -174.5 -100.75L-88.59 -51.15A102.3 102.3 0 0 0 -98.81 -26.48Z" fill="#79CE6D"/>
<path d="M-174.5 -100.75A201.5 201.5 0 0 1 -142.48 -142.48L-72.34 -72.34A102.3 102.3 0 0 0 -88.59 -51.15Z" fill="#79CE6D"/>
<path d="M-142.48 -142.48A201.5 201.5 0 0 1 -100.75 -174.5L-51.15 -88.59A102.3 102.3 0 0 0 -72.34 -72.34Z" fill="#79CE6D"/>
<path d="M-100.75 -174.5A201.5 201.5 0 0 1 -52.15 -194.63L-26.48 -98.81A102.3 102.3 0 0 0 -51.15 -88.59Z" fill="#FA6463"/>
<path d="M-52.15 -194.63A201.5 201.5 0 0 1 -0 -201.5L-0 -102.3A102.3 102.3 0 0 0 -26.48 -98.81Z" fill="#FA6463"/>
<line x1="0" y1="-101.3" x2="0" y2="-202.5" class="dv"/>
<line x1="26.22" y1="-97.85" x2="52.41" y2="-195.6" class="dv"/>
<line x1="50.65" y1="-87.73" x2="101.25" y2="-175.37" class="dv"/>
<line x1="71.63" y1="-71.63" x2="143.19" y2="-143.19" class="dv"/>
<line x1="87.73" y1="-50.65" x2="175.37" y2="-101.25" class="dv"/>
<line x1="97.85" y1="-26.22" x2="195.6" y2="-52.41" class="dv"/>
<line x1="101.3" y1="-0" x2="202.5" y2="-0" class="dv"/>
<line x1="97.85" y1="26.22" x2="195.6" y2="52.41" class="dv"/>
<line x1="87.73" y1="50.65" x2="175.37" y2="101.25" class="dv"/>
<line x1="71.63" y1="71.63" x2="143.19" y2="143.19" class="dv"/>
<line x1="50.65" y1="87.73" x2="101.25" y2="175.37" class="dv"/>
<line x1="26.22" y1="97.85" x2="52.41" y2="195.6" class="dv"/>
<line x1="0" y1="101.3" x2="0" y2="202.5" class="dv"/>
<line x1="-26.22" y1="97.85" x2="-52.41" y2="195.6" class="dv"/>
<line x1="-50.65" y1="87.73" x2="-101.25" y2="175.37" class="dv"/>
<line x1="-71.63" y1="71.63" x2="-143.19" y2="143.19" class="dv"/>
<line x1="-87.73" y1="50.65" x2="-175.37" y2="101.25" class="dv"/>
<line x1="-97.85" y1="26.22" x2="-195.6" y2="52.41" class="dv"/>
<line x1="-101.3" y1="0" x2="-202.5" y2="0" class="dv"/>
<line x1="-97.85" y1="-26.22" x2="-195.6" y2="-52.41" class="dv"/>
<line x1="-87.73" y1="-50.65" x2="-175.37" y2="-101.25" class="dv"/>
<line x1="-71.63" y1="-71.63" x2="-143.19" y2="-143.19" class="dv"/>
<line x1="-50.65" y1="-87.73" x2="-101.25" y2="-175.37" class="dv"/>
<line x1="-26.22" y1="-97.85" x2="-52.41" y2="-195.6" class="dv"/>
<text class="lb" x="15.78 23.08 29.48" y="-169.01 -169.76 -169.01">0-1</text>
<text class="lb" x="58.88 65.28 72.58" y="-157.22 -157.97 -157.22">1-2</text>
<text class="lb" x="98.33 105.63 112.93" y="-134.44 -135.19 -134.44">2-3</text>
<text class="lb" x="130.54 137.84 145.14" y="-102.23 -102.98 -102.23">3-4</text>
<text class="lb" x="153.32 160.62 167.92" y="-62.78 -63.53 -62.78">4-5</text>
<text class="lb" x="165.11 172.41 179.71" y="-18.78 -19.53 -18.78">5-6</text>
<text class="lb" x="165.11 172.41 179.71" y="26.78 26.03 26.78">6-7</text>
<text class="lb" x="153.32 160.62 167.92" y="70.78 70.03 70.78">7-8</text>
<text class="lb" x="130.54 137.84 145.14" y="110.23 109.48 110.23">8-9</text>
<text class="lb" x="95.23 102.53 108.93 116.03" y="142.44 141.69 142.44 142.44">9-10</text>
<text class="lb" x="52.68 59.78 67.08 73.48 79.68" y="165.22 165.22 164.47 165.22 165.22">10-11</text>
<text class="lb" x="8.68 14.88 21.28 27.68 34.78" y="177.01 177.01 176.26 177.01 177.01">11-12</text>
<text class="lb" x="-37.78 -30.68 -23.38 -16.98 -9.88" y="177.01 177.01 176.26 177.01 177.01">12-13</text>
<text class="lb" x="-81.78 -74.68 -67.38 -60.98 -53.88" y="165.22 165.22 164.47 165.22 165.22">13-14</text>
<text class="lb" x="-121.23 -114.13 -106.83 -100.43 -93.33" y="142.44 142.44 141.69 142.44 142.44">14-15</text>
<text class="lb" x="-153.44 -146.34 -139.04 -132.64 -125.54" y="110.23 110.23 109.48 110.23 110.23">15-16</text>
<text class="lb" x="-176.22 -169.12 -161.82 -155.42 -148.32" y="70.78 70.78 70.03 70.78 70.78">16-17</text>
<text class="lb" x="-188.01 -180.91 -173.61 -167.21 -160.11" y="26.78 26.78 26.03 26.78 26.78">17-18</text>
<text class="lb" x="-188.01 -180.91 -173.61 -167.21 -160.11" y="-18.78 -18.78 -19.53 -18.78 -18.78">18-19</text>
<text class="lb" x="-177.12 -170.02 -162.72 -155.42 -147.42" y="-62.78 -62.78 -63.53 -62.78 -62.78">19-20</text>
<text class="lb" x="-153.44 -145.44 -138.14 -130.84 -123.74" y="-102.23 -102.23 -102.98 -102.23 -102.23">20-21</text>
<text class="lb" x="-121.23 -114.13 -107.73 -100.43 -92.43" y="-134.44 -134.44 -135.19 -134.44 -134.44">21-22</text>
<text class="lb" x="-82.68 -74.68 -67.38 -60.08 -52.08" y="-157.22 -157.22 -157.97 -157.22 -157.22">22-23</text>
<text class="lb" x="-38.68 -30.68 -23.38 -16.08 -8.08" y="-169.01 -169.01 -169.76 -169.01 -169.01">23-24</text>
<text class="tt" x="-1.2" y="-21.7">ПІДЧЕРГА</text>
<text class="nm" x="-31.55 -3.1 7.2" y="29.5">3.1</text>
<rect x="8.55" y="22.9" width="10.05" height="9" fill="#fff"/>
<rect x="26" y="22.9" width="9.4" height="9" fill="#fff"/>
</g>
<g transform="translate(717.7 1064.1) scale(1.0288 1.0263)">
<path d="M0 -201.5A201.5 201.5 0 0 1 52.15 -194.63L26.48 -98.81A102.3 102.3 0 0 0 0 -102.3Z" fill="#FA6463"/>
<path d="M52.15 -194.63A201.5 201.5 0 0 1 100.75 -174.5L51.15 -88.59A102.3 102.3 0 0 0 26.48 -98.81Z" fill="#FA6463"/>
<path d="M100.75 -174.5A201.5 201.5 0 0 1 142.48 -142.48L72.34 -72.34A102.3 102.3 0 0 0 51.15 -88.59Z" fill="#79CE6D"/>
<path d="M142.48 -142.48A201.5 201.5 0 0 1 174.5 -100.75L88.59 -51.15A102.3 102.3 0 0 0 72.34 -72.34Z" fill="#79CE6D"/>
<path d="M174.5 -100.75A201.5 201.5 0 0 1 194.63 -52.15L98.81 -26.48A102.3 102.3 0 0 0 88.59 -51.15Z" fill="#79CE6D"/>
<path d="M194.63 -52.15A201.5 201.5 0 0 1 201.5 -0L102.3 -0A102.3 102.3 0 0 0 98.81 -26.48Z" fill="#79CE6D"/>
<path d="M201.5 -0A201.5 201.5 0 0 1 194.63 52.15L98.81 26.48A102.3 102.3 0 0 0 102.3 -0Z" fill="#FA6463"/>
<path d="M194.63 52.15A201.5 201.5 0 0 1 174.5 100.75L88.59 51.15A102.3 102.3 0 0 0 98.81 26.48Z" fill="#FA6463"/>
<path d="M174.5 100.75A201.5 201.5 0 0 1 142.48 142.48L72.34 72.34A102.3 102.3 0 0 0 88.59 51.15Z" fill="#FA6463"/>
<path d="M142.48 142.48A201.5 201.5 0 0 1 100.75 174.5L51.15 88.59A102.3 102.3 0 0 0 72.34 72.34Z" fill="#FA6463"/>
<path d="M100.75 174.5A201.5 201.5 0 0 1 52.15 194.63L26.48 98.81A102.3 102.3 0 0 0 51.15 88.59Z" fill="#79CE6D"/>
<path d="M52.15 194.63A201.5 201.5 0 0 1 0 201.5L0 102.3A102.3 102.3 0 0 0 26.48 98.81Z" fill="#79CE6D"/>
<path d="M0 201.5A201.5 201.5 0 0 1 -52.15 194.63L-26.48 98.81A102.3 102.3 0 0 0 0 102.3Z" fill="#79CE6D"/>
<path d="M-52.15 194.63A201.5 201.5 0 0 1 -100.75 174.5L-51.15 88.59A102.3 102.3 0 0 0 -26.48 98.81Z" fill="#79CE6D"/>
<path d="M-100.75 174.5A201.5 201.5 0 0 1 -142.48 142.48L-72.34 72.34A102.3 102.3 0 0 0 -51.15 88.59Z" fill="#FA6463"/>
<path d="M-142.48 142.48A201.5 201.5 0 0 1 -174.5 100.75L-88.59 51.15A102.3 102.3 0 0 0 -72.34 72.34Z" fill="#FA6463"/>
<path d="M-174.5 100.75A201.5 201.5 0 0 1 -194.63 52.15L-98.81 26.48A102.3 102.3 0 0 0 -88.59 51.15Z" fill="#FA6463"/>
<path d="M-194.63 52.15A201.5 201.5 0 0 1 -201.5 0L-102.3 0A102.3 102.3 0 0 0 -98.81 26.48Z" fill="#FA6463"/>
<path d="M-201.5 0A201.5 201.5 0 0 1 -194.63 -52.15L-98.81 -26.48A102.3 102.3 0 0 0 -102.3 0Z" fill="#79CE6D"/>
<path d="M-194.63 -52.15A201.5 201.5 0 0 1 -174.5 -100.75L-88.59 -51.15A102.3 102.3 0 0 0 -98.81 -26.48Z" fill="#79CE6D"/>
<path d="M-174.5 -100.75A201.5 201.5 0 0 1 -142.48 -142.48L-72.34 -72.34A102.3 102.3 0 0 0 -88.59 -51.15Z" fill="#79CE6D"/>
<path d="M-142.48 -142.48A201.5 201.5 0 0 1 -100.75 -174.5L-51.15 -88.59A102.3 102.3 0 0 0 -72.34 -72.34Z" fill="#79CE6D"/>
<path d="M-100.75 -174.5A201.5 201.5 0 0 1 -52.15 -194.63L-26.48 -98.81A102.3 102.3 0 0 0 -51.15 -88.59Z" fill="#FA6463"/>
<path d="M-52.15 -194.63A201.5 201.5 0 0 1 -0 -201.5L-0 -102.3A102.3 102.3 0 0 0 -26.48 -98.81Z" fill="#FA6463"/>
<line x1="0" y1="-101.3" x2="0" y2="-202.5" class="dv"/>
<line x1="26.22" y1="-97.85" x2="52.41" y2="-195.6" class="dv"/>
<line x1="50.65" y1="-87.73" x2="101.25" y2="-175.37" class="dv"/>
<line x1="71.63" y1="-71.63" x2="143.19" y2="-143.19" class="dv"/>
<line x1="87.73" y1="-50.65" x2="175.37" y2="-101.25" class="dv"/>
<line x1="97.85" y1="-26.22" x2="195.6" y2="-52.41" class="dv"/>
<line x1="101.3" y1="-0" x2="202.5" y2="-0" class="dv"/>
<line x1="97.85" y1="26.22" x2="195.6" y2="52.41" class="dv"/>
<line x1="87.73" y1="50.65" x2="175.37" y2="101.25" class="dv"/>
<line x1="71.63" y1="71.63" x2="143.19" y2="143.19" class="dv"/>
<line x1="50.65" y1="87.73" x2="101.25" y2="175.37" class="dv"/>
<line x1="26.22" y1="97.85" x2="52.41" y2="195.6" class="dv"/>
<line x1="0" y1="101.3" x2="0" y2="202.5" class="dv"/>
<line x1="-26.22" y1="97.85" x2="-52.41" y2="195.6" class="dv"/>
<line x1="-50.65" y1="87.73" x2="-101.25" y2="175.37" class="dv"/>
<line x1="-71.63" y1="71.63" x2="-143.19" y2="143.19" class="dv"/>
<line x1="-87.73" y1="50.65" x2="-175.37" y2="101.25" class="dv"/>
<line x1="-97.85" y1="26.22" x2="-195.6" y2="52.41" class="dv"/>
<line x1="-101.3" y1="0" x2="-202.5" y2="0" class="dv"/>
<line x1="-97.85" y1="-26.22" x2="-195.6" y2="-52.41" class="dv"/>
<line x1="-87.73" y1="-50.65" x2="-175.37" y2="-101.25" class="dv"/>
<line x1="-71.63" y1="-71.63" x2="-143.19" y2="-143.19" class="dv"/>
<line x1="-50.65" y1="-87.73" x2="-101.25" y2="-175.37" class="dv"/>
<line x1="-26.22" y1="-97.85" x2="-52.41" y2="-195.6" class="dv"/>
<text class="lb" x="15.78 23.08 29.48" y="-169.01 -169.76 -169.01">0-1</text>
<text class="lb" x="58.88 65.28 72.58" y="-157.22 -157.97 -157.22">1-2</text>
<text class="lb" x="98.33 105.63 112.93" y="-134.44 -135.19 -134.44">2-3</text>
<text class="lb" x="130.54 137.84 145.14" y="-102.23 -102.98 -102.23">3-4</text>
<text class="lb" x="153.32 160.62 167.92" y="-62.78 -63.53 -62.78">4-5</text>
<text class="lb" x="165.11 172.41 179.71" y="-18.78 -19.53 -18.78">5-6</text>
<text class="lb" x="165.11 172.41 179.71" y="26.78 26.03 26.78">6-7</text>
<text class="lb" x="153.32 160.62 167.92" y="70.78 70.03 70.78">7-8</text>
<text class="lb" x="130.54 137.84 145.14" y="110.23 109.48 110.23">8-9</text>
<text class="lb" x="95.23 102.53 108.93 116.03" y="142.44 141.69 142.44 142.44">9-10</text>
<text class="lb" x="52.68 59.78 67.08 73.48 79.68" y="165.22 165.22 164.47 165.22 165.22">10-11</text>
<text class="lb" x="8.68 14.88 21.28 27.68 34.78" y="177.01 177.01 176.26 177.01 177.01">11-12</text>
<text class="lb" x="-37.78 -30.68 -23.38 -16.98 -9.88" y="177.01 177.01 176.26 177.01 177.01">12-13</text>
<text class="lb" x="-81.78 -74.68 -67.38 -60.98 -53.88" y="165.22 165.22 164.47 165.22 165.22">13-14</text>
<text class="lb" x="-121.23 -114.13 -106.83 -100.43 -93.33" y="142.44 142.44 141.69 142.44 142.44">14-15</text>
<text class="lb" x="-153.44 -146.34 -139.04 -132.64 -125.54" y="110.23 110.23 109.48 110.23 110.23">15-16</text>
<text class="lb" x="-176.22 -169.12 -161.82 -155.42 -148.32" y="70.78 70.78 70.03 70.78 70.78">16-17</text>
<text class="lb" x="-188.01 -180.91 -173.61 -167.21 -160.11" y="26.78 26.78 26.03 26.78 26.78">17-18</text>
<text class="lb" x="-188.01 -180.91 -173.61 -167.21 -160.11" y="-18.78 -18.78 -19.53 -18.78 -18.78">18-19</text>
<text class="lb" x="-177.12 -170.02 -162.72 -155.42 -147.42" y="-62.78 -62.78 -63.53 -62.78 -62.78">19-20</text>
<text class="lb" x="-153.44 -145.44 -138.14 -130.84 -123.74" y="-102.23 -102.23 -102.98 -102.23 -102.23">20-21</text>
<text class="lb" x="-121.23 -114.13 -107.73 -100.43 -92.43" y="-134.44 -134.44 -135.19 -134.44 -134.44">21-22</text>
<text class="lb" x="-82.68 -74.68 -67.38 -60.08 -52.08" y="-157.22 -157.22 -157.97 -157.22 -157.22">22-23</text>
<text class="lb" x="-38.68 -30.68 -23.38 -16.08 -8.08" y="-169.01 -169.01 -169.76 -169.01 -169.01">23-24</text>
<text class="tt" x="-1.2" y="-21.7">ПІДЧЕРГА</text>
<text class="nm" x="-36.2 -6.85 9.3" y="30">3.2</text>
</g>
</svg>
</body>
</html>
